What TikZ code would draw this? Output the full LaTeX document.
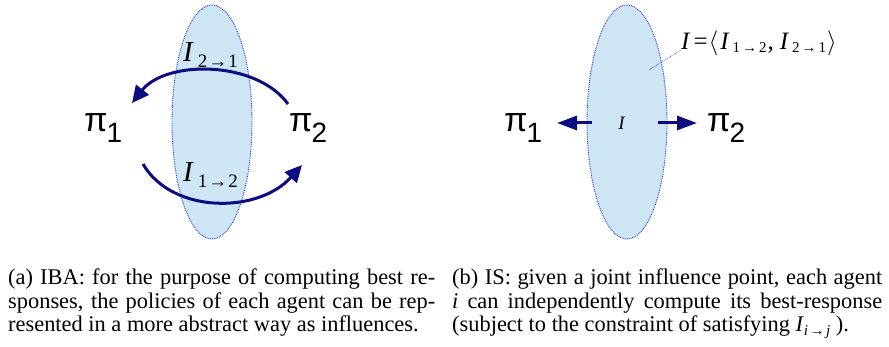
\documentclass[tikz,border=0pt]{standalone}
\usepackage{fontspec}
\setmainfont{Liberation Serif}
\newfontfamily\pisans{Liberation Sans}
\usetikzlibrary{arrows.meta,shapes.geometric}
\definecolor{navyarrow}{RGB}{12,12,128}
\definecolor{inflfill}{RGB}{206,229,244}
\definecolor{dotblue}{RGB}{45,60,235}
\newcommand\sbsc[2]{\raisebox{#1}{#2}}
\newcommand\pisub[1]{\fontsize{34}{34}\selectfont π\hspace{-1pt}\sbsc{-11pt}{\fontsize{28}{28}\selectfont #1}}
\begin{document}
\begin{tikzpicture}[x=1pt,y=-1pt,
  inflset/.style={ellipse, fill=inflfill, draw=dotblue, line width=0.9pt,
    dash pattern=on 0.9pt off 0.9pt, minimum width=80pt, minimum height=234pt, inner sep=0pt},
  pinode/.style={anchor=base west, inner sep=0pt, font=\pisans},
  biga/.style={draw=navyarrow, line width=3pt, -{Triangle[length=17pt,width=16pt]}},
  smalla/.style={draw=navyarrow, line width=3pt, -{Triangle[length=20pt,width=14pt]}},
  lbl/.style={anchor=base west, inner sep=0pt},
  capline/.style={anchor=base west, inner sep=0pt, font=\fontsize{22.4}{23.5}\selectfont},
  leader/.style={draw=dotblue, line width=0.6pt, dash pattern=on 0.6pt off 0.8pt}
]
\useasboundingbox (0,0) rectangle (889,347);

% ---------- (a) ----------
\node[inflset] (ella) at (212,122) {};
\node[pinode] (p1a) at (84,132) {\pisub{1}};
\node[pinode] (p2a) at (289,132) {\pisub{2}};
\coordinate (tops) at (288,104);
\coordinate (tope) at (132,103);
\coordinate (bots) at (143,164);
\coordinate (bote) at (302,165);
\draw[biga] (tops) .. controls (256,60) and (166,60) .. (tope);
\draw[biga] (bots) .. controls (172,214) and (258,214) .. (bote);
\node[lbl] (l21) at (183,62) {\fontsize{29}{29}\selectfont\textit{I}\hspace{4pt}\sbsc{-6pt}{\fontsize{19}{19}\selectfont 2\hspace{1pt}→\hspace{1pt}1}};
\node[lbl] (l12) at (183,182) {\fontsize{29}{29}\selectfont\textit{I}\hspace{4pt}\sbsc{-6pt}{\fontsize{19}{19}\selectfont 1\hspace{1pt}→\hspace{1pt}2}};

% ---------- (b) ----------
\node[inflset] (ellb) at (627,122) {};
\node[pinode] (p1b) at (504,132) {\pisub{1}};
\node[pinode] (p2b) at (707,132) {\pisub{2}};
\node[inner sep=0pt, font=\fontsize{19}{19}\selectfont] (ib) at (622,123) {\textit{I}};
\coordinate (la) at (592,123);
\coordinate (lt) at (557,123);
\coordinate (ra) at (658,123);
\coordinate (rt) at (697,123);
\draw[smalla] (la) -- (lt);
\draw[smalla] (ra) -- (rt);
\node[lbl] (jl) at (681,50) {\fontsize{25}{25}\selectfont\textit{I}\hspace{3pt}=\hspace{1pt}$\langle$\hspace{2pt}\textit{I}\hspace{3pt}\sbsc{-3pt}{\fontsize{15}{15}\selectfont 1\hspace{2pt}→\hspace{2pt}2}\hspace{1pt},\hspace{6pt}\textit{I}\hspace{3pt}\sbsc{-3pt}{\fontsize{15}{15}\selectfont 2\hspace{2pt}→\hspace{2pt}1}\hspace{1pt}$\rangle$};
\coordinate (lf) at (649,70);
\draw[leader] (lf) -- (jl.base west);

% ---------- captions ----------
\node[capline] (ca1) at (8,285) {\makebox[427pt][s]{(a) IBA: for the purpose of computing best re-}};
\node[capline] (ca2) at (8,308.5) {\makebox[427pt][s]{sponses, the policies of each agent can be rep-}};
\node[capline] (ca3) at (8,332) {resented in a more abstract way as influences.};
\node[capline] (cb1) at (452,285) {\makebox[430pt][s]{(b) IS: given a joint influence point, each agent}};
\node[capline] (cb2) at (452,308.5) {\makebox[430pt][s]{\textit{i} can independently compute its best-response}};
\node[capline] (cb3) at (452,332) {(subject to the constraint of satisfying \textit{I}\sbsc{-3pt}{\fontsize{15}{15}\selectfont\textit{i}\hspace{1.5pt}→\hspace{1.5pt}\textit{j}}\ ).};
\end{tikzpicture}
\end{document}
